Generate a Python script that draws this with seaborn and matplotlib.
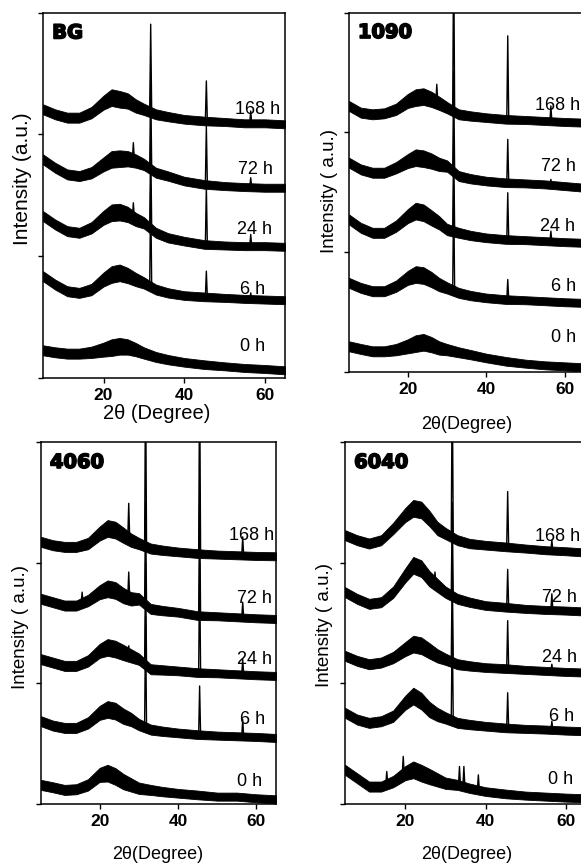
import numpy as np
import matplotlib
matplotlib.use("Agg")
import matplotlib.pyplot as plt
import matplotlib.patheffects as pe
import seaborn as sns

### Datos (intensidad en u.a., con el desplazamiento vertical incluido)

two_theta = [5, 8, 11, 14, 17, 20, 22, 24, 26, 28, 30, 33, 36, 40, 45, 50, 55, 60, 65]
times = ["0 h", "6 h", "24 h", "72 h", "168 h"]
# semi-ancho de la banda de ruido
noise_band = [15, 15, 15, 15, 17, 21, 25, 25, 23, 20, 17, 15, 14, 13, 13, 12, 12, 12, 12]

bg_curves = [
    [83, 77, 73, 73, 77, 85, 91, 95, 93, 85, 75, 63, 55, 47, 40, 35, 30, 27, 23],
    [305, 280, 260, 255, 265, 295, 310, 315, 307, 295, 285, 265, 255, 247, 243, 240, 237, 235, 233],
    [485, 460, 440, 435, 450, 480, 495, 497, 490, 475, 465, 435, 420, 410, 400, 397, 395, 395, 393],
    [655, 630, 610, 605, 615, 640, 655, 657, 657, 650, 640, 615, 605, 590, 580, 575, 572, 570, 570],
    [805, 790, 780, 780, 795, 825, 840, 835, 830, 815, 805, 790, 783, 775, 770, 767, 763, 763, 760],
]
# (curva, 2theta, altura del pico)
bg_peaks = [(4, 31.7, 1060), (4, 45.5, 890), (4, 56.5, 800),
            (3, 27.4, 705), (3, 31.7, 900), (3, 45.5, 755), (3, 56.5, 600),
            (2, 27.4, 525), (2, 31.7, 720), (2, 45.5, 575), (2, 56.5, 430),
            (1, 31.7, 575), (1, 45.5, 320), (1, 56.5, 255)]
bg_label_x = [53.8, 53.8, 53.0, 53.4, 52.6]
bg_label_y = [95, 265, 445, 625, 805]

c1090_curves = [
    [77, 69, 62, 62, 67, 77, 85, 89, 82, 72, 67, 59, 52, 42, 32, 25, 20, 17, 14],
    [267, 252, 242, 242, 257, 282, 292, 289, 277, 262, 252, 237, 229, 222, 217, 215, 212, 209, 207],
    [457, 432, 417, 417, 437, 467, 482, 477, 462, 447, 427, 417, 409, 402, 397, 395, 392, 389, 387],
    [627, 607, 597, 597, 612, 632, 642, 639, 632, 622, 617, 587, 579, 572, 567, 565, 562, 557, 552],
    [797, 777, 772, 775, 787, 812, 822, 825, 817, 805, 792, 772, 767, 762, 757, 755, 752, 749, 747],
]
c1090_peaks = [(4, 27.4, 862), (4, 31.7, 1300), (4, 45.5, 1007), (4, 56.5, 797),
               (3, 31.7, 900), (3, 45.5, 697), (3, 56.5, 577),
               (2, 27.4, 470), (2, 31.7, 700), (2, 45.5, 537), (2, 56.5, 422),
               (1, 31.7, 560), (1, 45.5, 277)]
c1090_label_x = [56.5, 56.5, 53.7, 53.9, 52.4]
c1090_label_y = [102, 257, 437, 617, 797]

c4060_curves = [
    [57, 50, 42, 44, 57, 87, 92, 82, 67, 57, 47, 42, 37, 32, 27, 22, 22, 17, 14],
    [247, 234, 227, 227, 242, 272, 282, 277, 262, 252, 237, 222, 217, 212, 207, 204, 202, 200, 197],
    [432, 422, 412, 412, 427, 457, 467, 462, 452, 442, 432, 402, 400, 397, 392, 390, 387, 384, 382],
    [612, 602, 592, 592, 607, 632, 642, 637, 622, 612, 612, 582, 577, 572, 562, 560, 557, 554, 552],
    [782, 772, 767, 767, 777, 807, 822, 817, 802, 787, 777, 762, 757, 752, 747, 744, 742, 740, 739],
]
c4060_peaks = [(4, 27.4, 897), (4, 31.7, 1300), (4, 45.5, 1300), (4, 56.5, 797),
               (3, 15.5, 632), (3, 27.4, 692), (3, 31.7, 900), (3, 45.5, 900), (3, 56.5, 602),
               (2, 27.4, 472), (2, 31.7, 720), (2, 45.5, 720), (2, 56.5, 432),
               (1, 31.7, 560), (1, 45.5, 352), (1, 56.5, 252)]
c4060_label_x = [55.0, 55.8, 55.0, 55.0, 53.0]
c4060_label_y = [67, 252, 432, 612, 802]

c6040_curves = [
    [102, 77, 52, 52, 67, 92, 102, 92, 82, 72, 62, 57, 47, 37, 30, 25, 22, 19, 17],
    [272, 252, 242, 247, 262, 302, 322, 307, 282, 267, 257, 242, 237, 232, 227, 224, 222, 219, 217],
    [442, 427, 417, 422, 437, 462, 477, 472, 457, 442, 432, 417, 412, 407, 404, 400, 397, 394, 392],
    [632, 612, 597, 602, 632, 682, 712, 702, 672, 652, 632, 612, 602, 592, 587, 582, 579, 577, 574],
    [802, 787, 777, 787, 822, 862, 882, 877, 852, 822, 807, 787, 777, 772, 767, 762, 757, 754, 750],
]
c6040_peaks = [(4, 31.7, 1300), (4, 45.5, 932), (4, 56.5, 787),
               (3, 27.4, 692), (3, 31.7, 900), (3, 45.5, 700), (3, 56.5, 627),
               (2, 31.7, 720), (2, 45.5, 547), (2, 56.5, 417),
               (1, 31.7, 560), (1, 45.5, 332), (1, 56.5, 247),
               (0, 15.4, 97), (0, 19.5, 142), (0, 33.5, 112), (0, 34.6, 112), (0, 38.2, 87)]
c6040_label_x = [55.6, 55.8, 54.0, 54.0, 52.2]
c6040_label_y = [72, 262, 437, 617, 797]

### Figura

sns.set_style("ticks")
plt.rcParams['font.family'] = ['Liberation Sans', 'DejaVu Sans']
plt.rcParams['text.color'] = 'k'
plt.rcParams['axes.labelcolor'] = 'k'
plt.rcParams['xtick.color'] = 'k'
plt.rcParams['ytick.color'] = 'k'

W, H = 581, 866
fig = plt.figure(figsize=(W / 100, H / 100), dpi=100)

# nombre, curvas, picos, etiquetas, caja en px (left, top, width, height), ymax, xlabel, ylabel, pos etiquetas ejes, tamano
panels = [
    ("BG", bg_curves, bg_peaks, bg_label_x, bg_label_y, (43, 12.5, 242, 365.5), 1095,
     "2θ (Degree)", "Intensity (a.u.)", (0.47, -0.096), (-0.084, 0.544), 14.5),
    ("1090", c1090_curves, c1090_peaks, c1090_label_x, c1090_label_y, (349, 12.5, 235.2, 359.5), 1077,
     "2θ(Degree)", "Intensity ( a.u.)", (0.50, -0.147), (-0.085, 0.503), 13),
    ("4060", c4060_curves, c4060_peaks, c4060_label_x, c4060_label_y, (41, 442.3, 235, 361.7), 1079,
     "2θ(Degree)", "Intensity ( a.u.)", (0.496, -0.141), (-0.086, 0.489), 13),
    ("6040", c6040_curves, c6040_peaks, c6040_label_x, c6040_label_y, (345, 442.3, 241, 361.7), 1079,
     "2θ(Degree)", "Intensity ( a.u.)", (0.505, -0.141), (-0.087, 0.495), 13),
]

for name, curves, peaks, lab_x, lab_y, box, ymax, xlab, ylab, xl_pos, yl_pos, lab_size in panels:
    left, top, width, height = box
    ax = fig.add_axes([left / W, 1 - (top + height) / H, width / W, height / H])

    for curve in curves:
        lo = np.array(curve) - np.array(noise_band)
        hi = np.array(curve) + np.array(noise_band)
        ax.fill_between(two_theta, lo, hi, color="k", lw=0.6, edgecolor="k")
        sns.lineplot(x=two_theta, y=curve, ax=ax, color="k", lw=1.0)

    for i, pos, h in peaks:
        base = np.interp(pos, two_theta, curves[i])
        ax.plot([pos - 0.25, pos, pos + 0.25], [base, h, base], color="k", lw=1.0)

    for t, lx, ly in zip(times, lab_x, lab_y):
        ax.text(lx, ly, t, fontsize=13, ha="left", va="center", color="k")

    ax.text(0.038, 0.929, name, transform=ax.transAxes, fontsize=14, fontweight="bold",
            family="DejaVu Sans", va="baseline", ha="left", color="k",
            path_effects=[pe.withStroke(linewidth=1.2, foreground="k")])

    ax.set_xlim(5, 65)
    ax.set_ylim(0, ymax)
    ax.set_xticks([20, 40, 60])
    ax.set_yticks([0, ymax / 3, 2 * ymax / 3, ymax])
    ax.set_yticklabels([])
    ax.tick_params(axis="both", direction="out", length=3.5, width=1.0, color="k")
    ax.tick_params(axis="x", labelsize=12.5, pad=4)
    for lbl in ax.get_xticklabels():
        lbl.set_fontweight("bold")
    for s in ax.spines.values():
        s.set_visible(True)
        s.set_linewidth(1.1)
        s.set_color("k")

    ax.set_xlabel(xlab, fontsize=lab_size, va="center")
    ax.xaxis.set_label_coords(*xl_pos)
    ax.set_ylabel(ylab, fontsize=lab_size + 0.5, va="center")
    ax.yaxis.set_label_coords(*yl_pos)

plt.savefig("out.png", dpi=100)
